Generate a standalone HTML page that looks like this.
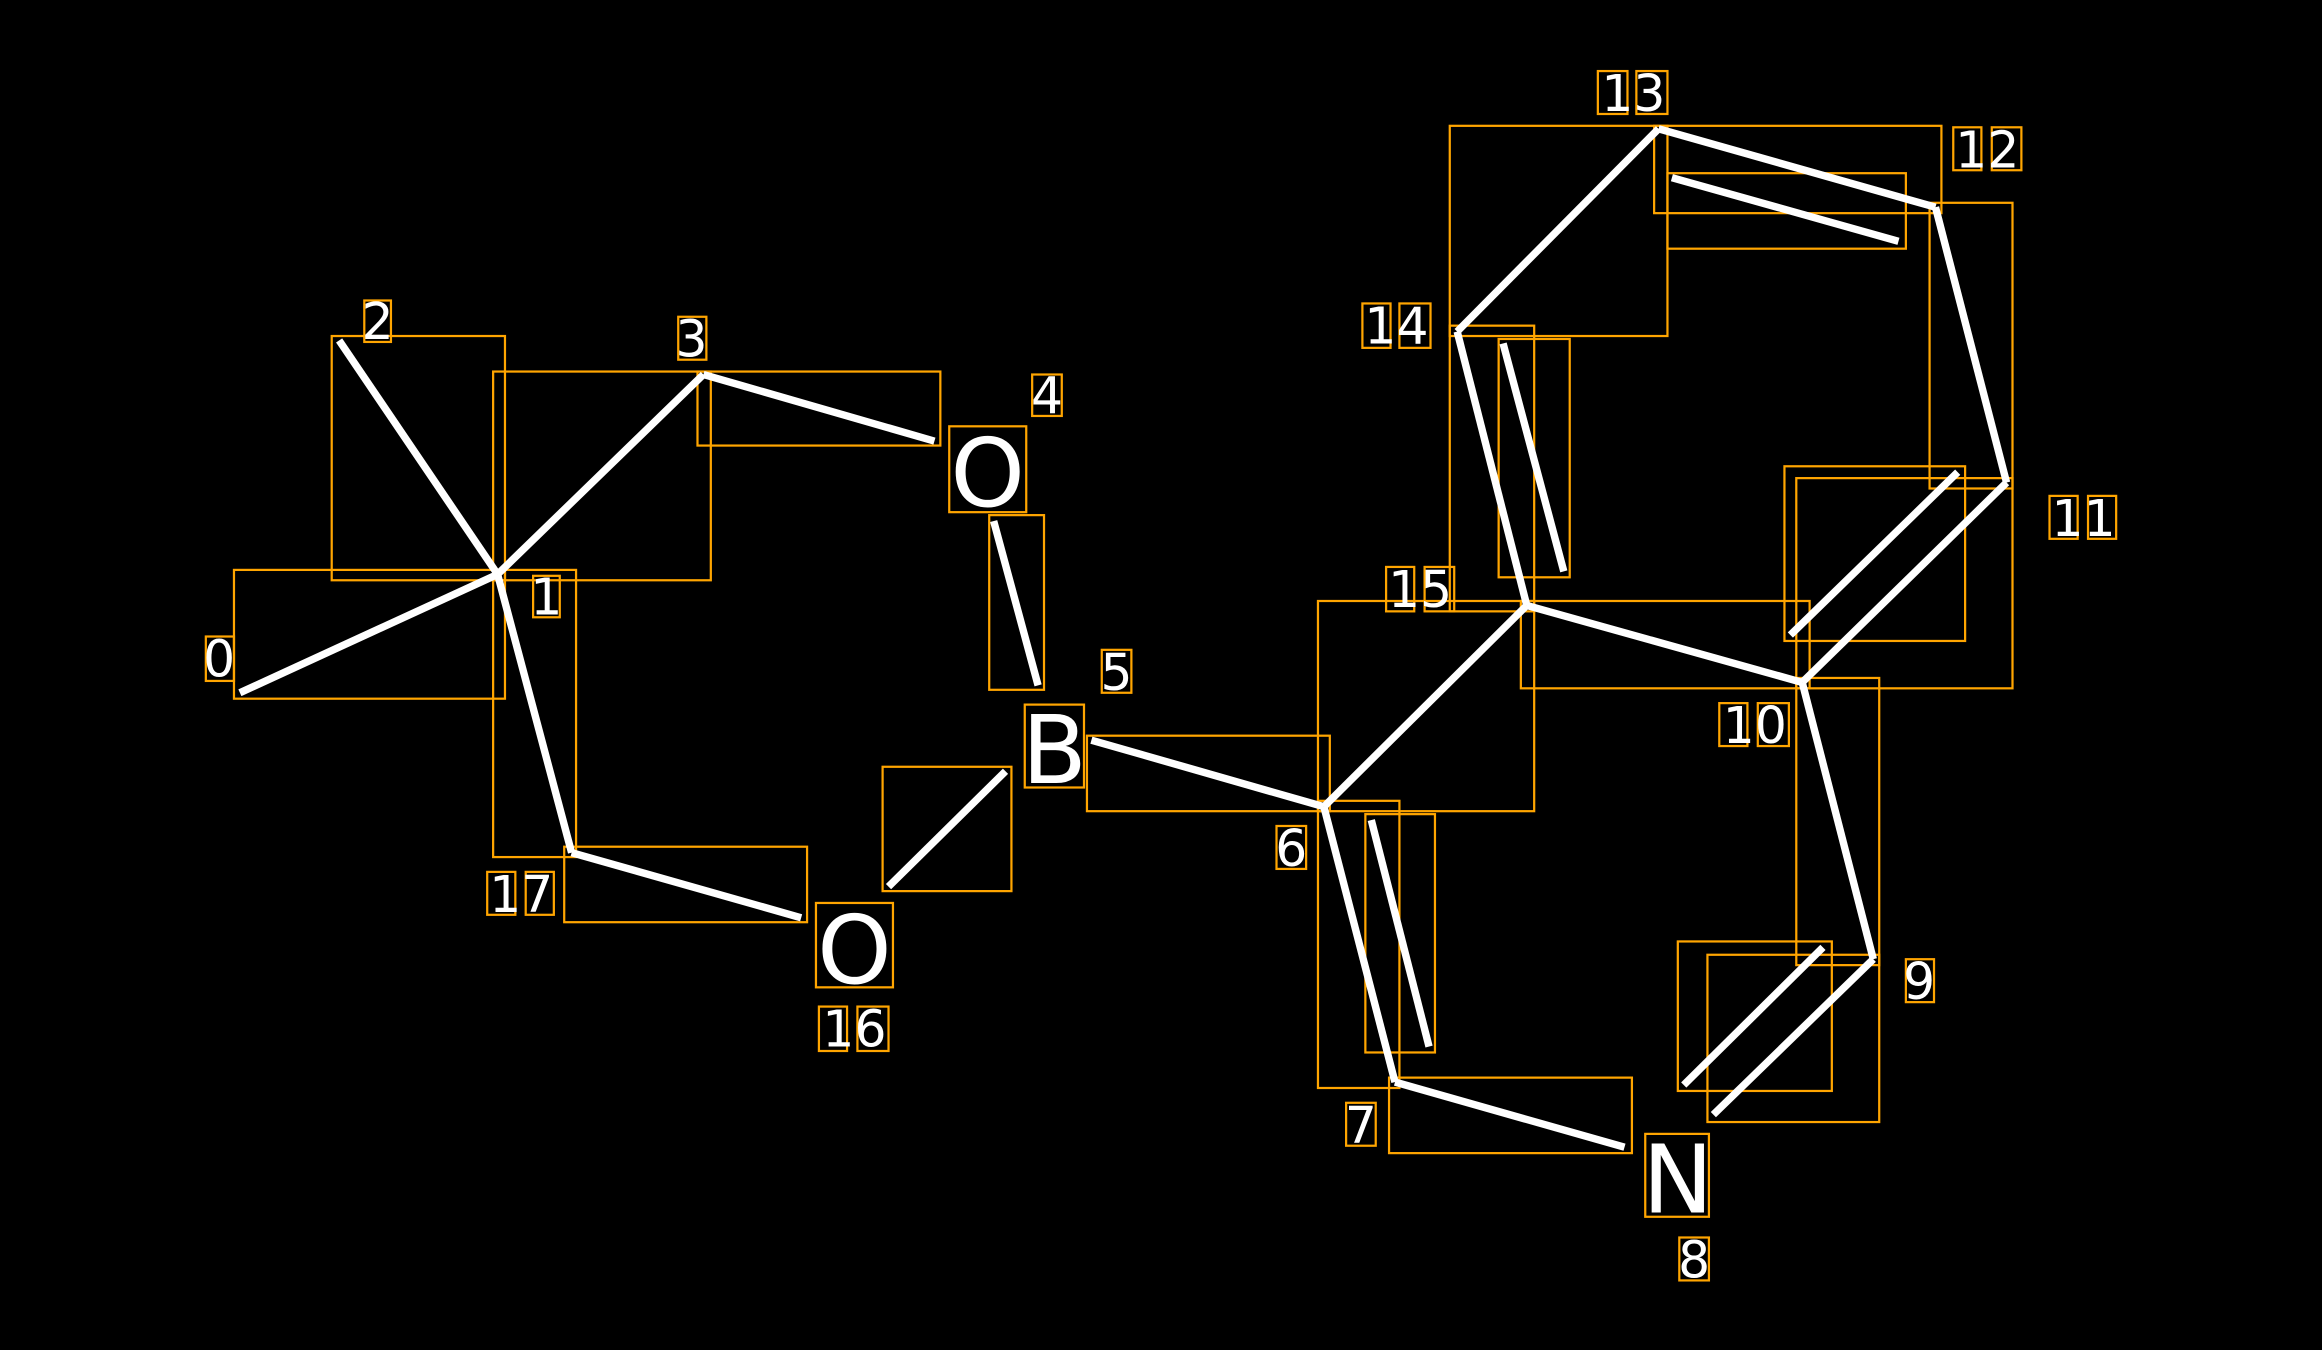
<!DOCTYPE html>
<html><head><meta charset="utf-8"><style>
html,body{margin:0;padding:0;background:#000;}
svg{display:block;}
text{font-family:"DejaVu Sans","Liberation Sans",sans-serif;fill:#fff;}
</style></head><body>
<svg width="2322" height="1350" viewBox="0 0 1568 912" preserveAspectRatio="none" xmlns="http://www.w3.org/2000/svg">
<rect width="1568" height="912" fill="#000"/>
<g fill="none" stroke="#FFA500" stroke-width="1.5">
<rect x="158" y="385" width="183" height="87"/>
<rect x="224" y="227" width="117" height="165"/>
<rect x="333" y="251" width="147" height="141"/>
<rect x="471" y="251" width="164" height="50"/>
<rect x="641" y="288" width="52" height="58"/>
<rect x="668" y="348" width="37" height="118"/>
<rect x="596" y="518" width="87" height="84"/>
<rect x="333" y="385" width="56" height="194"/>
<rect x="381" y="572" width="164" height="51"/>
<rect x="551" y="610" width="52" height="57"/>
<rect x="692" y="476" width="40" height="56"/>
<rect x="734" y="497" width="164" height="51"/>
<rect x="890" y="406" width="146" height="142"/>
<rect x="890" y="541" width="55" height="194"/>
<rect x="922" y="550" width="47" height="161"/>
<rect x="938" y="728" width="164" height="51"/>
<rect x="1111" y="766" width="43" height="56"/>
<rect x="1153" y="645" width="116" height="113"/>
<rect x="1133" y="636" width="104" height="101"/>
<rect x="1213" y="458" width="56" height="194"/>
<rect x="1027" y="406" width="195" height="59"/>
<rect x="1213" y="323" width="146" height="142"/>
<rect x="1205" y="315" width="122" height="118"/>
<rect x="1303" y="137" width="56" height="193"/>
<rect x="1117" y="85" width="194" height="59"/>
<rect x="1126" y="117" width="161" height="51"/>
<rect x="979" y="85" width="147" height="142"/>
<rect x="979" y="220" width="57" height="193"/>
<rect x="1012" y="229" width="48" height="161"/>
<!-- label boxes -->
<rect x="139" y="430" width="19" height="30"/>
<rect x="360" y="389" width="18" height="28"/>
<rect x="246" y="203" width="18" height="28"/>
<rect x="458" y="214" width="19" height="29"/>
<rect x="697" y="253" width="20" height="28"/>
<rect x="744" y="439" width="20" height="29"/>
<rect x="862" y="558" width="20" height="29"/>
<rect x="909" y="745" width="20" height="29"/>
<rect x="1134" y="836" width="20" height="29"/>
<rect x="1287" y="648" width="19" height="29"/>
<rect x="1161" y="475" width="19" height="29"/><rect x="1187" y="475" width="21" height="29"/>
<rect x="1384" y="335" width="19" height="29"/><rect x="1410" y="335" width="19" height="29"/>
<rect x="1319" y="86" width="19" height="29"/><rect x="1345" y="86" width="20" height="29"/>
<rect x="1079" y="48" width="20" height="29"/><rect x="1105" y="48" width="21" height="29"/>
<rect x="920" y="205" width="19" height="30"/><rect x="945" y="205" width="21" height="30"/>
<rect x="936" y="383" width="19" height="30"/><rect x="962" y="383" width="20" height="30"/>
<rect x="553" y="680" width="19" height="30"/><rect x="579" y="680" width="21" height="30"/>
<rect x="329" y="589" width="19" height="29"/><rect x="355" y="589" width="19" height="29"/>
</g>
<g stroke="#fff" stroke-width="5" stroke-linecap="butt">
<line x1="162" y1="468" x2="336" y2="388"/>
<line x1="229" y1="230" x2="336" y2="388"/>
<line x1="336" y1="388" x2="475" y2="253"/>
<line x1="475" y1="253" x2="631" y2="298"/>
<line x1="671" y1="352" x2="701" y2="463"/>
<line x1="600" y1="599" x2="679" y2="521"/>
<line x1="336" y1="388" x2="386" y2="576"/>
<line x1="386" y1="576" x2="541" y2="620"/>
<line x1="737" y1="500" x2="894" y2="545"/>
<line x1="894" y1="545" x2="1031" y2="409"/>
<line x1="894" y1="545" x2="942" y2="731"/>
<line x1="926" y1="554" x2="965" y2="707"/>
<line x1="942" y1="731" x2="1097" y2="775"/>
<line x1="1157" y1="753" x2="1265" y2="648"/>
<line x1="1137" y1="733" x2="1231" y2="640"/>
<line x1="1265" y1="648" x2="1217" y2="461"/>
<line x1="1217" y1="461" x2="1031" y2="409"/>
<line x1="1217" y1="461" x2="1355" y2="326"/>
<line x1="1209" y1="429" x2="1322" y2="319"/>
<line x1="1355" y1="326" x2="1307" y2="140"/>
<line x1="1307" y1="140" x2="1120" y2="87"/>
<line x1="1129" y1="120" x2="1282" y2="163"/>
<line x1="1120" y1="87" x2="984" y2="224"/>
<line x1="984" y1="224" x2="1031" y2="409"/>
<line x1="1015" y1="232" x2="1056" y2="386"/>
</g>
<g font-size="64" text-anchor="middle">
<text x="667" y="342">O</text>
<text x="577" y="664">O</text>
<text x="712" y="529">B</text>
<text x="1133" y="819">N</text>
</g>
<g font-size="34" text-anchor="middle">
<text x="148" y="457">0</text>
<text x="369" y="415">1</text>
<text x="255" y="229">2</text>
<text x="467" y="241">3</text>
<text x="707" y="279">4</text>
<text x="754" y="466">5</text>
<text x="872" y="585">6</text>
<text x="919" y="772">7</text>
<text x="1144" y="863">8</text>
<text x="1296" y="675">9</text>
<text x="1185" y="502">10</text>
<text x="1407" y="362">11</text>
<text x="1342" y="113">12</text>
<text x="1103" y="75">13</text>
<text x="943" y="232">14</text>
<text x="959" y="410">15</text>
<text x="577" y="707">16</text>
<text x="352" y="616">17</text>
</g>
</svg>
</body></html>
